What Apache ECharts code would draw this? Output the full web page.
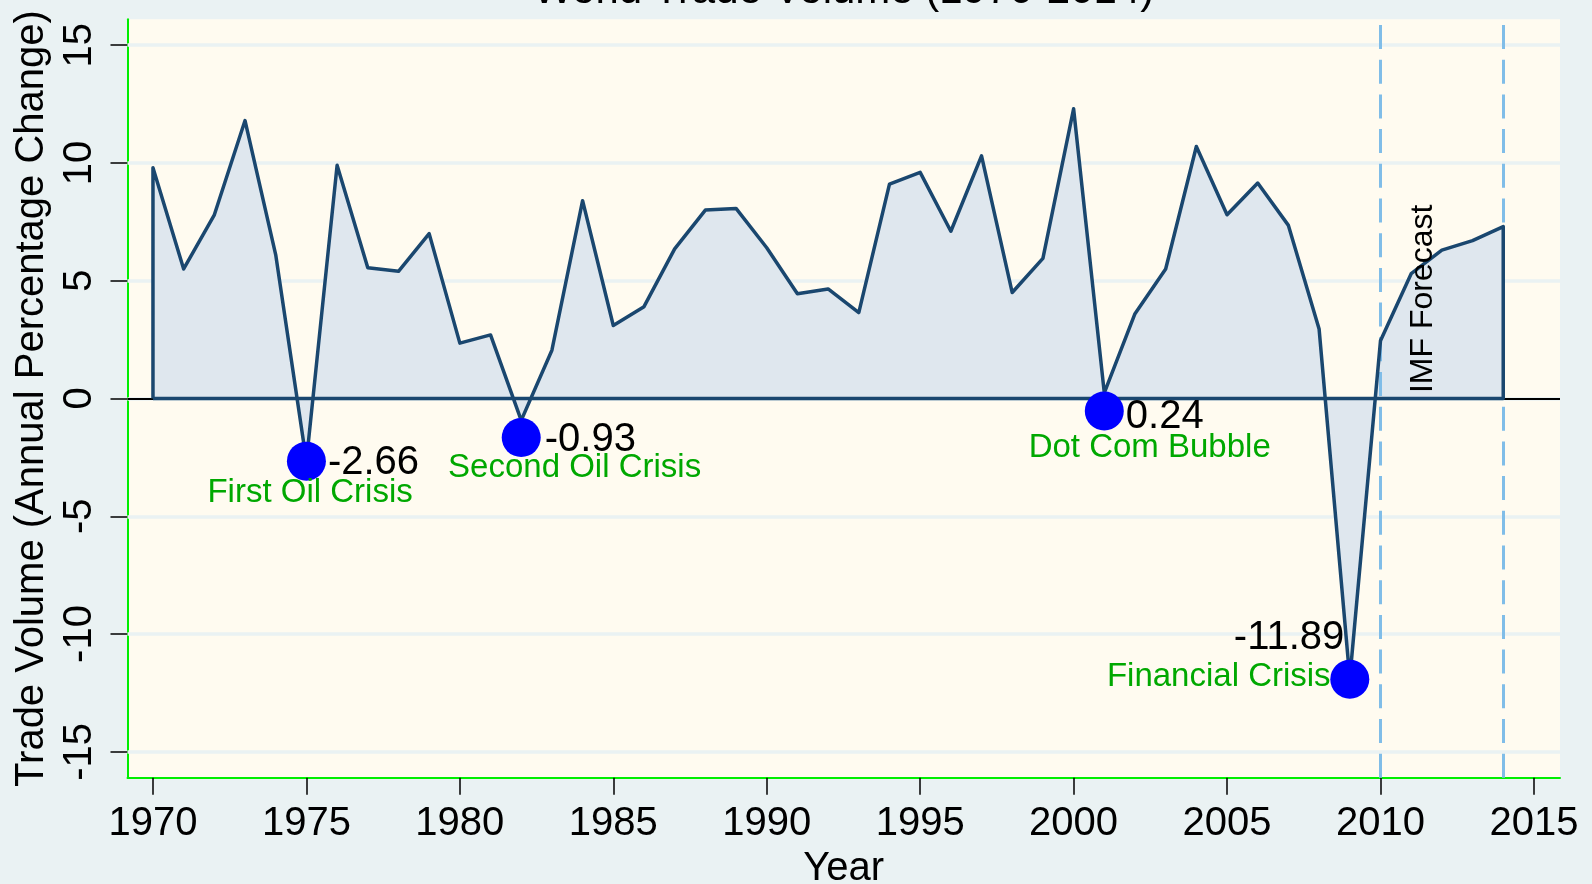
<!DOCTYPE html>
<html>
<head>
<meta charset="utf-8">
<title>World Trade Volume (1970-2014)</title>
<script src="https://cdn.jsdelivr.net/npm/echarts@6/dist/echarts.min.js"></script>
<style>
	html, body { margin: 0; padding: 0; background: #eaf2f3; }
	#chart { width: 1592px; height: 884px; }
</style>
</head>
<body>
<div id="chart"></div>
<script>
	// annual % change of world trade volume (2010-2014 = IMF forecast)
	var years = [1970, 1971, 1972, 1973, 1974, 1975, 1976, 1977, 1978, 1979,
		1980, 1981, 1982, 1983, 1984, 1985, 1986, 1987, 1988, 1989,
		1990, 1991, 1992, 1993, 1994, 1995, 1996, 1997, 1998, 1999,
		2000, 2001, 2002, 2003, 2004, 2005, 2006, 2007, 2008, 2009,
		2010, 2011, 2012, 2013, 2014];
	var tradeVolume = [9.8, 5.5, 7.8, 11.8, 6.1, -2.66, 9.9, 5.55, 5.4, 7.0,
		2.35, 2.7, -0.93, 2.05, 8.4, 3.1, 3.9, 6.35, 8.0, 8.07,
		6.4, 4.45, 4.65, 3.65, 9.1, 9.6, 7.1, 10.3, 4.5, 5.95,
		12.3, 0.24, 3.6, 5.5, 10.7, 7.8, 9.15, 7.35, 2.95, -11.89,
		2.45, 5.3, 6.3, 6.7, 7.3];

	// crisis markers (marker height as drawn, label text as printed)
	var crisisYears = [1975, 1982, 2001, 2009];
	var crisisMarkerValues = [-2.66, -1.66, -0.53, -11.92];
	var crisisValueLabels = ['-2.66', '-0.93', '0.24', '-11.89'];
	var crisisNames = ['First Oil Crisis', 'Second Oil Crisis', 'Dot Com Bubble', 'Financial Crisis'];
	var crisisNameYears = [1975.12, 1983.74, 2002.48, 2004.73];
	var crisisNameValues = [-4.0, -2.95, -2.08, -11.82];

	var forecastLines = [2010, 2014];
	var forecastText = 'IMF Forecast';
	var forecastTextPos = [2011.39, 0.23];

	var xTicks = [1970, 1975, 1980, 1985, 1990, 1995, 2000, 2005, 2010, 2015];
	var yTicks = [-15, -10, -5, 0, 5, 10, 15];

	var FONT = 'Liberation Sans';
	var chart = echarts.init(document.getElementById('chart'));

	var pts = [];
	for (var i = 0; i < years.length; i++) {
		pts.push([years[i], tradeVolume[i]]);
	}
	// closed outline of the area (Stata draws the edges too)
	var outline = [[years[0], 0]].concat(pts, [[years[years.length - 1], 0], [years[0], 0]]);

	var markers = [];
	for (var i = 0; i < crisisYears.length; i++) {
		markers.push([crisisYears[i], crisisMarkerValues[i]]);
	}
	var labelPlace = [
		{ position: 'right', distance: 2, offset: [0, 2] },
		{ position: 'right', distance: 4, offset: [0, 2] },
		{ position: 'right', distance: 2, offset: [0, 6] },
		{ position: 'left', distance: 0, offset: [14, -41] }
	];
	var markerData = markers.map(function(p, i) {
		return {
			value: p,
			label: labelPlace[i]
		};
	});
	var nameData = [];
	for (var i = 0; i < crisisNames.length; i++) {
		nameData.push([crisisNameYears[i], crisisNameValues[i]]);
	}

	var option = {
		backgroundColor: '#eaf2f3',
		animation: false,
		textStyle: { fontFamily: FONT },
		grid: {
			left: 127.5,
			right: 32,
			top: 19.3,
			bottom: 106.3,
			show: true,
			backgroundColor: '#fffbf0',
			borderWidth: 0,
			containLabel: false,
			outerBoundsMode: 'none'
		},
		graphic: [{
			type: 'text',
			x: 843.7,
			y: -9,
			style: {
				text: 'World Trade Volume (1970-2014)',
				fontSize: 42,
				fontFamily: FONT,
				fill: '#000',
				align: 'center',
				verticalAlign: 'middle'
			}
		}],
		xAxis: {
			type: 'value',
			min: 1969.17,
			max: 2015.85,
			name: 'Year',
			nameLocation: 'middle',
			nameGap: 64,
			nameTextStyle: { fontSize: 40, color: '#000', fontFamily: FONT },
			axisLine: { show: true, onZero: false, lineStyle: { color: '#00ee00', width: 2 } },
			axisTick: { show: true, length: 17, customValues: xTicks, lineStyle: { color: '#000', width: 1.5 } },
			axisLabel: {
				customValues: xTicks,
				fontSize: 40,
				color: '#000',
				margin: 26,
				formatter: function(v) { return String(v); }
			},
			splitLine: { show: false }
		},
		yAxis: {
			type: 'value',
			min: -16.1,
			max: 16.1,
			name: 'Trade Volume (Annual Percentage Change)',
			nameLocation: 'middle',
			nameGap: 76,
			nameRotate: 90,
			nameTextStyle: { fontSize: 40, color: '#000', fontFamily: FONT },
			axisLine: { show: true, onZero: false, lineStyle: { color: '#00ee00', width: 2 } },
			axisTick: { show: true, length: 17, customValues: yTicks, lineStyle: { color: '#000', width: 1.5 } },
			axisLabel: {
				customValues: yTicks,
				rotate: 90,
				fontSize: 40,
				color: '#000',
				margin: 28,
				formatter: function(v) { return String(v); }
			},
			splitLine: { show: false }
		},
		series: [{
			// grid lines
			type: 'line',
			data: [],
			z: 1,
			silent: true,
			markLine: {
				z: 1,
				silent: true,
				symbol: 'none',
				label: { show: false },
				lineStyle: { color: '#eaf2f3', width: 3.5, type: 'solid' },
				data: yTicks.map(function(v) { return { yAxis: v }; })
			}
		}, {
			// filled area
			type: 'line',
			data: pts,
			z: 2,
			silent: true,
			symbol: 'none',
			lineStyle: { width: 0 },
			areaStyle: { color: '#dfe7ee', opacity: 1, origin: 0 }
		}, {
			// zero line + forecast window
			type: 'line',
			data: [],
			z: 3,
			silent: true,
			markLine: {
				z: 3,
				silent: true,
				symbol: 'none',
				label: { show: false },
				data: [{
					yAxis: 0,
					lineStyle: { color: '#000', width: 2, type: 'solid' }
				}].concat(forecastLines.map(function(x) {
					return {
						xAxis: x,
						lineStyle: { color: '#80bde8', width: 3, type: [24, 10.7] }
					};
				}))
			}
		}, {
			// outline
			type: 'line',
			data: outline,
			z: 4,
			silent: true,
			symbol: 'none',
			lineStyle: { color: '#1a476f', width: 3.5, join: 'round' }
		}, {
			type: 'scatter',
			data: markerData,
			z: 6,
			symbol: 'circle',
			symbolSize: 39,
			itemStyle: { color: '#0000ff', opacity: 1 },
			label: {
				show: true,
				fontSize: 40,
				color: '#000',
				fontFamily: FONT,
				formatter: function(p) { return crisisValueLabels[p.dataIndex]; }
			}
		}, {
			type: 'scatter',
			data: nameData,
			z: 6,
			symbolSize: 1,
			itemStyle: { color: 'transparent', opacity: 1 },
			label: {
				show: true,
				position: 'inside',
				fontSize: 33,
				color: '#00a800',
				fontFamily: FONT,
				formatter: function(p) { return crisisNames[p.dataIndex]; }
			}
		}, {
			type: 'scatter',
			data: [forecastTextPos],
			z: 6,
			symbolSize: 1,
			itemStyle: { color: 'transparent', opacity: 1 },
			label: {
				show: true,
				position: 'inside',
				rotate: 90,
				align: 'left',
				verticalAlign: 'middle',
				fontSize: 32,
				color: '#000',
				fontFamily: FONT,
				formatter: forecastText
			}
		}]
	};
	chart.setOption(option);
</script>
</body>
</html>
